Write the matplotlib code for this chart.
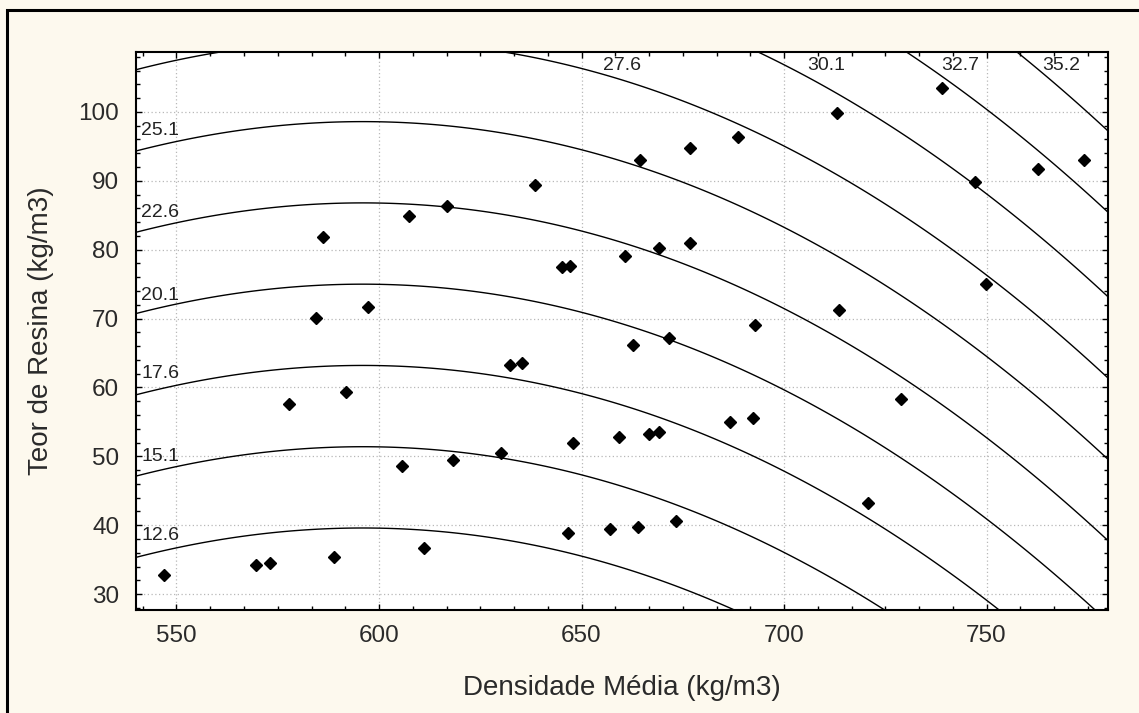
import numpy as np
import matplotlib.pyplot as plt
from matplotlib.patches import Rectangle
from matplotlib.ticker import MultipleLocator

plt.rcParams['font.family'] = ['Liberation Sans', 'DejaVu Sans']

# observações: densidade média x teor de resina
densidade = [547.0, 569.6, 573.1, 589.0, 611.1, 605.6, 618.2, 630.1, 577.8, 591.9,
             632.4, 635.2, 584.4, 597.4, 586.1, 607.5, 616.9, 638.6, 664.4, 676.8,
             688.6, 713.1, 739.0, 747.1, 762.8, 774.0, 660.7, 669.1, 676.8, 645.1,
             647.1, 713.5, 749.8, 692.9, 671.6, 662.7, 729.0, 686.7, 692.3, 647.8,
             659.2, 666.7, 669.2, 720.7, 646.6, 657.0, 663.9, 673.4]
resina = [32.8, 34.2, 34.5, 35.4, 36.7, 48.6, 49.4, 50.5, 57.6, 59.3,
          63.2, 63.5, 70.1, 71.7, 81.9, 84.9, 86.4, 89.4, 93.0, 94.7,
          96.3, 99.8, 103.5, 89.8, 91.7, 93.0, 79.1, 80.2, 81.0, 77.5,
          77.7, 71.3, 75.0, 69.0, 67.2, 66.1, 58.3, 55.0, 55.6, 51.9,
          52.8, 53.3, 53.6, 43.3, 38.9, 39.5, 39.8, 40.6]

# níveis das isolinhas
niveis = [12.6, 15.1, 17.6, 20.1, 22.6, 25.1, 27.6, 30.1, 32.7, 35.2]

# superfície ajustada: z = z0 + b_y*(y - y0) + a2*(x - xc)^2 + a3*(x - xc)^3
z0, y0, xc = 12.6, 39.6, 596.0
b_y = 0.2119
a2 = 2.924e-4
a3 = 7.84e-8


def superficie(x, y):
    u = x - xc
    return z0 + b_y * (y - y0) + a2 * u ** 2 + a3 * u ** 3


# posições dos rótulos das isolinhas
rotulos_esq = [(12.6, 38.5), (15.1, 50.0), (17.6, 62.0), (20.1, 73.4), (22.6, 85.4), (25.1, 97.3)]
rotulos_topo = [(27.6, 660.0), (30.1, 710.5), (32.7, 743.6), (35.2, 768.4)]

fig = plt.figure(figsize=(11.39, 7.13), dpi=100, facecolor='#fdf9ee')
ax = fig.add_axes([0.1194, 0.1445, 0.8534, 0.7826])
ax.set_facecolor('white')

xmin, xmax, ymin, ymax = 540, 780, 27.7, 108.7
gx = np.linspace(xmin, xmax, 400)
gy = np.linspace(ymin, ymax, 400)
X, Y = np.meshgrid(gx, gy)
Z = superficie(X, Y)

ax.contour(X, Y, Z, levels=niveis, colors='black', linewidths=1.0)
ax.plot(densidade, resina, linestyle='none', marker='D', ms=6.4, color='black', zorder=5)

for nivel, yl in rotulos_esq:
    ax.text(541.3, yl, f"{nivel:.1f}", fontsize=14, ha='left', va='center', color='#222222')
for nivel, xl in rotulos_topo:
    ax.text(xl, 106.7, f"{nivel:.1f}", fontsize=14, ha='center', va='center', color='#222222')

ax.set_xlim(xmin, xmax)
ax.set_ylim(ymin, ymax)
ax.xaxis.set_major_locator(MultipleLocator(50))
ax.xaxis.set_minor_locator(MultipleLocator(50 / 6))
ax.yaxis.set_major_locator(MultipleLocator(10))
ax.yaxis.set_minor_locator(MultipleLocator(2))
ax.tick_params(which='both', direction='in', top=True, right=True, width=1, color='black')
ax.tick_params(which='major', length=4, labelsize=17.5, labelcolor='#2a2a2a')
ax.tick_params(axis='y', which='major', pad=12)
ax.tick_params(axis='x', which='major', pad=11)
ax.tick_params(which='minor', length=3)
ax.grid(True, which='major', linestyle=(0, (1, 2)), color='#b8b8b8', linewidth=0.9)
for s in ax.spines.values():
    s.set_linewidth(1.5)

ax.set_xlabel("Densidade Média (kg/m3)", fontsize=20, color='#2a2a2a', labelpad=20)
ax.set_ylabel("Teor de Resina (kg/m3)", fontsize=20, color='#2a2a2a', labelpad=18)

# moldura da janela
fig.add_artist(Rectangle((7 / 1139, -1), 2, 1 - 10 / 713 + 1, transform=fig.transFigure,
                         fill=False, edgecolor='black', linewidth=2.2, clip_on=False))

fig.savefig('out.png', dpi=100, facecolor=fig.get_facecolor())
